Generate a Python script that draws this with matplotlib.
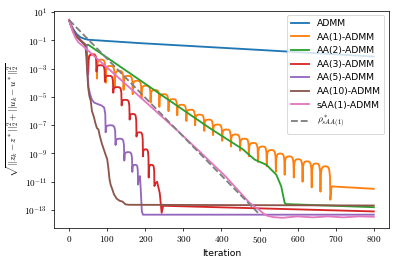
import matplotlib
matplotlib.use("Agg")
import numpy as np
import matplotlib.pyplot as plt
from matplotlib.ticker import FixedLocator, FixedFormatter, NullLocator

plt.rcParams['mathtext.fontset'] = 'cm'
plt.rcParams['font.family'] = ['DejaVu Sans']

# ---------------- data (log10 of residual) ----------------
admm_iter = [0, 5, 12, 20, 30, 40, 50, 186, 500, 800]
admm_log = [0.45, 0.1, -0.25, -0.55, -0.78, -0.88, -0.95, -1.19, -1.67, -2.14]

# common start of the AA(m) runs
aa_start_iter = [0, 5, 12, 20, 30, 40, 45]
aa_start_log = [0.45, 0.05, -0.4, -0.7, -1.0, -1.25, -1.35]

# AA(1): spikes (iteration, low) and arc tops between spikes
aa1_spike_iter = [50, 73, 96, 120, 143, 167, 190, 214, 237, 261, 284, 308, 331, 355,
                  378, 402, 425, 449, 472, 496, 519, 543, 566, 590, 613, 637, 660, 686]
aa1_spike_log = [-3.4, -3.7, -4.0, -4.3, -4.5, -4.8, -5.1, -5.4, -5.7, -6.0, -6.3, -6.7,
                 -7.0, -7.4, -7.7, -8.1, -8.5, -8.8, -9.2, -9.6, -9.9, -10.3, -10.5,
                 -10.7, -11.0, -11.4, -11.7, -12.27]
aa1_top_log = [-1.95, -2.35, -2.8, -3.15, -3.5, -3.85, -4.2, -4.5, -4.8, -5.15, -5.55,
               -5.9, -6.25, -6.6, -6.95, -7.3, -7.65, -7.95, -8.25, -8.5, -8.75, -9.0,
               -9.2, -9.4, -9.55, -9.7, -9.9]
aa1_tail_iter = [689, 800]
aa1_tail_log = [-11.33, -11.5]

# AA(2)
aa2_iter = [50, 159, 250, 369, 456, 487, 518, 544, 557, 566, 570, 800]
aa2_log = [-1.3, -3.31, -5.0, -7.2, -8.7, -9.43, -9.8, -10.5, -11.33, -12.5, -12.58, -12.8]

# AA(3)
aa3_spike_iter = [50, 72, 94, 116, 138, 159, 177, 194, 209, 224]
aa3_spike_log = [-3.4, -3.2, -3.9, -4.7, -5.6, -6.6, -7.8, -9.2, -10.7, -11.3]
aa3_top_log = [-2.0, -2.75, -3.5, -4.3, -5.2, -6.2, -7.5, -8.7, -9.8]
aa3_tail_iter = [227, 231, 238, 243, 247, 800]
aa3_tail_log = [-11.1, -11.0, -11.8, -13.2, -12.7, -13.1]

# AA(5)
aa5_head_iter = [48, 51, 55, 60, 66, 75, 85, 92, 95]
aa5_head_log = [-3.0, -4.3, -4.8, -5.2, -5.4, -5.5, -5.6, -5.75, -6.2]
aa5_spike_iter = [96, 122, 145, 166, 181]
aa5_spike_log = [-7.5, -8.4, -9.5, -10.3, -11.2]
aa5_top_log = [-7.0, -7.95, -8.9, -9.8]
aa5_tail_iter = [183, 186, 188, 191, 194, 800]
aa5_tail_log = [-10.7, -10.6, -11.5, -13.1, -13.33, -13.33]

# AA(10)
aa10_iter = [43, 45, 47, 50, 53, 57, 60, 65, 69, 73, 77, 81, 86, 91, 96, 100, 103, 106,
             109, 113, 118, 125, 133, 140, 148, 157, 800]
aa10_log = [-1.45, -2.0, -3.0, -4.3, -4.9, -5.3, -6.0, -6.4, -6.85, -7.2, -7.3, -7.8,
            -8.3, -8.7, -9.1, -9.4, -10.0, -10.8, -11.2, -11.5, -11.9, -12.2, -12.35,
            -12.4, -12.6, -12.63, -12.68]

# sAA(1)
saa1_iter = [0, 4, 10, 17, 25, 38, 185, 282, 343, 410, 474, 500, 510, 520, 535, 560,
             600, 640, 680, 720, 760, 800]
saa1_log = [0.45, 0.1, -0.4, -0.84, -1.15, -1.43, -4.97, -7.32, -8.87, -10.6, -12.5,
            -13.0, -13.25, -13.4, -13.5, -13.55, -13.45, -13.52, -13.45, -13.52, -13.45,
            -13.48]

# rate line rho*_{sAA(1)}
rate_iter = [0, 496]
rate_log = [0.45, -13.2]

labels = ['ADMM', 'AA(1)-ADMM', 'AA(2)-ADMM', 'AA(3)-ADMM', 'AA(5)-ADMM',
          'AA(10)-ADMM', 'sAA(1)-ADMM', r'$\rho^*_{sAA(1)}$']
ytick_exp = [1, -1, -3, -5, -7, -9, -11, -13]
xtick_vals = [0, 100, 200, 300, 400, 500, 600, 700, 800]

# ---------------- drawing helpers (arch shape = style) ----------------
ARCH_T = [0.0, 0.04, 0.12, 0.25, 0.5, 0.75, 0.88, 0.96, 1.0]
ARCH_H = [0.0, 0.70, 0.90, 0.98, 1.0, 0.98, 0.90, 0.70, 0.0]


def scallops(spikes, lows, tops):
    xs, ys = [], []
    for i in range(len(tops)):
        x0, x1 = spikes[i], spikes[i + 1]
        l0, l1 = lows[i], lows[i + 1]
        for t, h in zip(ARCH_T, ARCH_H):
            if i > 0 and t == 0.0:
                continue
            base = l0 + (l1 - l0) * t
            xs.append(x0 + (x1 - x0) * t)
            ys.append(base + (tops[i] - base) * h)
    return xs, ys


def series(*parts):
    xs, ys = [], []
    for px, py in parts:
        xs += list(px)
        ys += list(py)
    return np.array(xs), 10.0 ** np.array(ys)


aa1_sx, aa1_sy = scallops(aa1_spike_iter, aa1_spike_log, aa1_top_log)
aa3_sx, aa3_sy = scallops(aa3_spike_iter, aa3_spike_log, aa3_top_log)
aa5_sx, aa5_sy = scallops(aa5_spike_iter, aa5_spike_log, aa5_top_log)

curves = [
    series((admm_iter, admm_log)),
    series((aa_start_iter, aa_start_log), (aa1_sx, aa1_sy), (aa1_tail_iter, aa1_tail_log)),
    series((aa_start_iter, aa_start_log), (aa2_iter, aa2_log)),
    series((aa_start_iter, aa_start_log), (aa3_sx, aa3_sy), (aa3_tail_iter, aa3_tail_log)),
    series((aa_start_iter, aa_start_log), (aa5_head_iter, aa5_head_log), (aa5_sx, aa5_sy),
           (aa5_tail_iter, aa5_tail_log)),
    series((aa_start_iter[:-1], aa_start_log[:-1]), (aa10_iter, aa10_log)),
    series((saa1_iter, saa1_log)),
]
colors = ['#1f77b4', '#ff7f0e', '#2ca02c', '#d62728', '#9467bd', '#8c564b', '#e377c2']

fig = plt.figure(figsize=(6, 4), dpi=66.5)
ax = fig.add_axes([0.135, 0.143, 0.84, 0.817])

for (x, y), c, lab in zip(curves, colors, labels[:-1]):
    ax.plot(x, y, color=c, lw=2, label=lab)
rx, ry = series((rate_iter, rate_log))
ax.plot(rx, ry, color='#7f7f7f', lw=2, ls='--', label=labels[-1])

ax.set_yscale('log')
ax.set_xlim(-40, 840)
ax.set_ylim(10 ** -14.27, 10 ** 1.11)
ax.yaxis.set_major_locator(FixedLocator([10.0 ** e for e in ytick_exp]))
ax.yaxis.set_major_formatter(FixedFormatter([r'$10^{%d}$' % e for e in ytick_exp]))
ax.yaxis.set_minor_locator(NullLocator())
ax.xaxis.set_major_locator(FixedLocator(xtick_vals))
ax.xaxis.set_major_formatter(FixedFormatter([r'$%d$' % v for v in xtick_vals]))
ax.tick_params(labelsize=10)

ax.set_xlabel('Iteration', fontsize=10)
ax.set_ylabel(r'$\sqrt{||z_k-z^*||_2^2+||u_k-u^*||_2^2}$', fontsize=10)
ax.legend(loc='upper right', fontsize=10)

fig.savefig('out.png', dpi=66.5)
